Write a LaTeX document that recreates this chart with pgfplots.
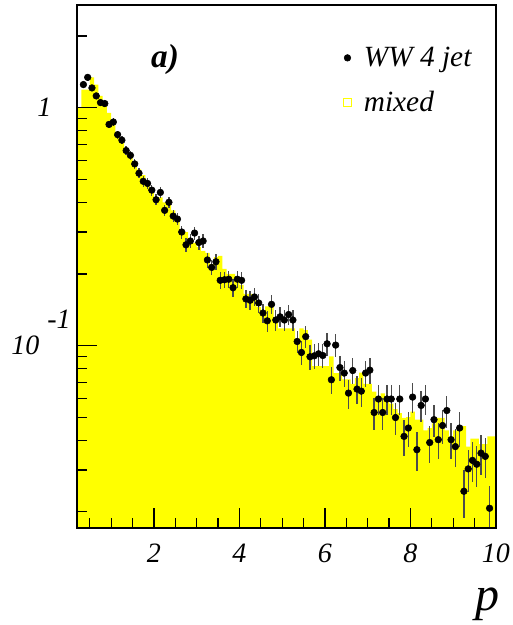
\documentclass[border=0pt]{standalone}
\usepackage{fontspec}
\setmainfont{Liberation Serif}
\usepackage{pgfplots}
\usepackage{pgfplotstable}
\pgfplotsset{compat=1.18}
\definecolor{rootyellow}{RGB}{255,255,0}

% histogram "mixed": left bin edge, content
\pgfplotstableread{
x y
0.2 0.001
0.2 1.00
0.3 1.19
0.4 1.19
0.5 1.34
0.6 1.25
0.7 1.12
0.8 1.04
0.9 0.95
1.0 0.87
1.1 0.79
1.2 0.71
1.3 0.66
1.4 0.62
1.5 0.58
1.6 0.55
1.7 0.52
1.8 0.48
1.9 0.45
2.0 0.42
2.1 0.42
2.2 0.40
2.3 0.39
2.4 0.37
2.5 0.35
2.6 0.30
2.7 0.30
2.8 0.28
2.9 0.27
3.0 0.26
3.1 0.25
3.2 0.245
3.3 0.22
3.4 0.235
3.5 0.238
3.6 0.21
3.7 0.20
3.8 0.20
3.9 0.185
4.0 0.18
4.1 0.165
4.2 0.165
4.3 0.16
4.4 0.145
4.5 0.139
4.6 0.146
4.7 0.146
4.8 0.125
4.9 0.118
5.0 0.118
5.1 0.118
5.2 0.118
5.3 0.107
5.4 0.118
5.5 0.116
5.6 0.106
5.7 0.082
5.8 0.082
5.9 0.082
6.0 0.082
6.1 0.090
6.2 0.0766
6.3 0.0766
6.4 0.072
6.5 0.072
6.6 0.069
6.7 0.073
6.8 0.077
6.9 0.069
7.0 0.069
7.1 0.064
7.2 0.060
7.3 0.063
7.4 0.059
7.5 0.057
7.6 0.054
7.7 0.052
7.8 0.0496
7.9 0.050
8.0 0.0528
8.1 0.0488
8.2 0.0488
8.3 0.044
8.4 0.045
8.5 0.0471
8.6 0.0496
8.7 0.0496
8.8 0.044
8.9 0.0415
9.0 0.044
9.1 0.0458
9.2 0.0458
9.3 0.0376
9.4 0.0406
9.5 0.0406
9.6 0.0385
9.7 0.0385
9.8 0.0415
9.9 0.0415
10.0 0.0415
10.0 0.001
}\mixed

% data "WW 4 jet": bin centre, content, error
\pgfplotstableread{
x y e
0.35 1.25 0.039
0.45 1.34 0.041
0.55 1.21 0.0385
0.65 1.12 0.037
0.75 1.05 0.036
0.85 1.04 0.036
0.95 0.85 0.032
1.05 0.87 0.033
1.15 0.77 0.031
1.25 0.73 0.030
1.35 0.66 0.028
1.45 0.63 0.028
1.55 0.58 0.027
1.65 0.53 0.025
1.75 0.49 0.0245
1.85 0.48 0.024
1.95 0.45 0.0235
2.05 0.41 0.022
2.15 0.44 0.023
2.25 0.37 0.021
2.35 0.40 0.022
2.45 0.35 0.021
2.55 0.34 0.020
2.65 0.30 0.019
2.75 0.265 0.018
2.85 0.275 0.018
2.95 0.297 0.019
3.05 0.271 0.018
3.15 0.275 0.018
3.25 0.229 0.017
3.35 0.213 0.016
3.45 0.225 0.017
3.55 0.188 0.015
3.65 0.189 0.015
3.75 0.190 0.015
3.85 0.175 0.0146
3.95 0.190 0.015
4.05 0.188 0.015
4.15 0.157 0.0139
4.25 0.155 0.0138
4.35 0.160 0.014
4.45 0.151 0.0136
4.55 0.137 0.013
4.65 0.127 0.0125
4.75 0.149 0.0135
4.85 0.128 0.0125
4.95 0.132 0.0127
5.05 0.128 0.0125
5.15 0.135 0.0129
5.25 0.128 0.0125
5.35 0.104 0.0113
5.45 0.0935 0.0107
5.55 0.109 0.0116
5.65 0.0897 0.0105
5.75 0.0905 0.0105
5.85 0.0923 0.0106
5.95 0.0908 0.0105
6.05 0.1017 0.0112
6.15 0.0718 0.0094
6.25 0.1004 0.0111
6.35 0.0808 0.0099
6.45 0.0766 0.0097
6.55 0.0631 0.0088
6.65 0.0785 0.0098
6.75 0.0656 0.009
6.85 0.0643 0.0089
6.95 0.0766 0.0097
7.05 0.0788 0.0098
7.15 0.0523 0.008
7.25 0.0596 0.0085
7.35 0.0523 0.008
7.45 0.0596 0.0085
7.55 0.0596 0.0085
7.65 0.0498 0.0078
7.75 0.0596 0.0085
7.85 0.0415 0.0071
7.95 0.0450 0.0074
8.05 0.0607 0.0086
8.15 0.0365 0.0067
8.25 0.0560 0.0083
8.35 0.0596 0.0085
8.45 0.0391 0.0069
8.55 0.0488 0.0077
8.65 0.0402 0.007
8.75 0.0461 0.0075
8.85 0.0533 0.0081
8.95 0.0402 0.007
9.05 0.0376 0.0068
9.15 0.0450 0.0074
9.25 0.0244 0.0055
9.35 0.0303 0.0061
9.45 0.0329 0.0063
9.55 0.0317 0.0062
9.65 0.0353 0.0066
9.75 0.0342 0.0065
9.85 0.0207 0.005
}\wwjet

\begin{document}
\begin{tikzpicture}
\begin{axis}[
  scale only axis,
  width=314.25pt, height=392.25pt,
  ymode=log,
  xmin=0.2, xmax=10, ymin=0.0171, ymax=2.70,
  axis on top,
  axis line style={line width=0.9pt},
  tick style={black, line width=0.9pt},
  tick align=inside,
  major tick length=15pt, minor tick length=7.5pt,
  xtick pos=bottom, ytick pos=left,
  xtick={2,4,6,8,10},
  xticklabels={2,4,6,8,10},
  minor xtick={0.5,1,...,9.5},
  ytick={0.1,1},
  yticklabels={{10\hspace{6pt}\smash{\raisebox{20pt}{-1}}},{\hspace{5pt}1}},
  minor ytick={0.02,0.03,0.04,0.05,0.06,0.07,0.08,0.09,0.2,0.3,0.4,0.5,0.6,0.7,0.8,0.9,2},
  ticklabel style={font=\fontsize{21}{25}\selectfont\itshape},
  xticklabel style={anchor=center, yshift=-18.75pt},
  yticklabel style={anchor=center, xshift=-27pt},
  xlabel={p},
  xlabel style={font=\fontsize{36}{40}\selectfont\itshape, at={(rel axis cs:1,0)}, anchor=center, xshift=-6pt, yshift=-57pt},
  legend style={at={(rel axis cs:0.636,0.925)}, anchor=north west, draw=none, fill=none,
    font=\fontsize{22}{26}\selectfont\itshape, row sep=13pt, inner sep=0pt,
    /tikz/every odd column/.append style={column sep=7.5pt}},
  legend cell align=left,
]
\addplot[const plot, fill=rootyellow, draw=none, forget plot] table[x=x, y=y] {\mixed};
\addplot[only marks, mark=*, mark size=2.5pt, black, forget plot,
  error bars/.cd, y dir=both, y explicit, error mark=none,
  error bar style={line width=1pt, black!70}]
  table[x=x, y=y, y error=e] {\wwjet};
\addlegendimage{only marks, mark=*, mark size=2.5pt, black}
\addlegendentry{WW 4 jet}
\addlegendimage{only marks, mark=square, mark size=2.8pt, rootyellow, line width=0.8pt}
\addlegendentry{mixed}
\node[font=\fontsize{25}{30}\selectfont\bfseries\itshape] at (rel axis cs:0.21,0.895) {a)};
\coordinate (bl) at (rel axis cs:0,0);
\coordinate (tr) at (rel axis cs:1,1);
\end{axis}
\pgfresetboundingbox
\path ([shift={(-57.75pt,-72.75pt)}]bl) rectangle ([shift={(12.75pt,3.75pt)}]tr);
\end{tikzpicture}
\end{document}
